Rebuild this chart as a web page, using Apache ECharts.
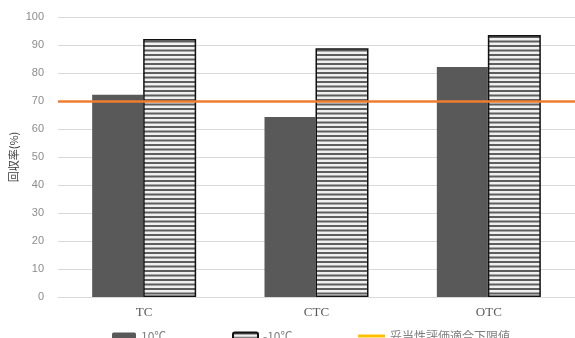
<!DOCTYPE html>
<html><head><meta charset="utf-8">
<script src="https://cdn.jsdelivr.net/npm/echarts@6/dist/echarts.min.js"></script>
<style>html,body{margin:0;padding:0;background:#fff}#c{width:575px;height:338px}</style>
</head><body><div id="c"></div>
<script>
var categories = ['TC', 'CTC', 'OTC'];
var seriesNames = ['10℃', '-10℃', '妥当性評価適合下限値'];
var warmValues = [72.2, 64.3, 82.1];
var coldValues = [92.1, 88.8, 93.6];
var lowerLimit = 70;
var yTicks = [0, 100, 10];

var cv = document.createElement('canvas');
cv.width = 4; cv.height = 9;
var g = cv.getContext('2d');
g.fillStyle = '#f0f0f0'; g.fillRect(0, 0, 4, 9);
g.fillStyle = '#5e5e5e'; g.fillRect(0, 0, 4, 2); g.fillRect(0, 4.5, 4, 2);

var chart = echarts.init(document.getElementById('c'), null, {renderer: 'canvas'});
var legendText = {color: '#7f7f7f', fontSize: 12, fontFamily: 'Noto Sans CJK JP'};
chart.setOption({
  animation: false,
  grid: {left: 58, right: 0, top: 17, bottom: 41, containLabel: false, outerBoundsMode: 'none'},
  legend: [
    {data: [seriesNames[0]], left: 107, top: 325, itemWidth: 24, itemHeight: 7, itemGap: 0, textStyle: legendText},
    {data: [seriesNames[1]], left: 227, top: 325, itemWidth: 25, itemHeight: 7, textStyle: legendText},
    {data: [{name: seriesNames[2], icon: 'rect'}], left: 353, top: 325, itemWidth: 27, itemHeight: 3, textStyle: legendText}
  ],
  xAxis: {
    type: 'category', data: categories,
    axisLine: {lineStyle: {color: '#d9d9d9'}}, axisTick: {show: false},
    axisLabel: {color: '#595959', fontSize: 13, fontFamily: 'Liberation Serif', margin: 9}
  },
  yAxis: {
    type: 'value', min: yTicks[0], max: yTicks[1], interval: yTicks[2],
    name: '回収率(%)', nameLocation: 'middle', nameGap: 39, nameRotate: 90, nameMoveOverlap: false,
    nameTextStyle: {color: '#404040', fontSize: 11, fontFamily: 'Noto Sans CJK JP'},
    axisLine: {show: false}, axisTick: {show: false},
    axisLabel: {color: '#8c8c8c', fontSize: 11, fontFamily: 'Liberation Sans', margin: 14},
    splitLine: {lineStyle: {color: '#d9d9d9', width: 1}}
  },
  series: [
    {name: seriesNames[0], type: 'bar', data: warmValues, barWidth: 51, barGap: '0%',
     itemStyle: {color: '#595959'}},
    {name: seriesNames[1], type: 'bar', data: coldValues, barWidth: 53,
     itemStyle: {color: {image: cv, repeat: 'repeat'}, borderColor: '#111', borderWidth: 1.5}},
    {name: seriesNames[2], type: 'line', data: [], symbol: 'none',
     lineStyle: {color: '#FFC000', width: 2.5}, itemStyle: {color: '#FFC000'},
     markLine: {silent: true, symbol: 'none', label: {show: false},
       lineStyle: {color: '#ED7D31', width: 2.5, type: 'solid'},
       data: [{yAxis: lowerLimit}]}}
  ]
});
</script></body></html>
